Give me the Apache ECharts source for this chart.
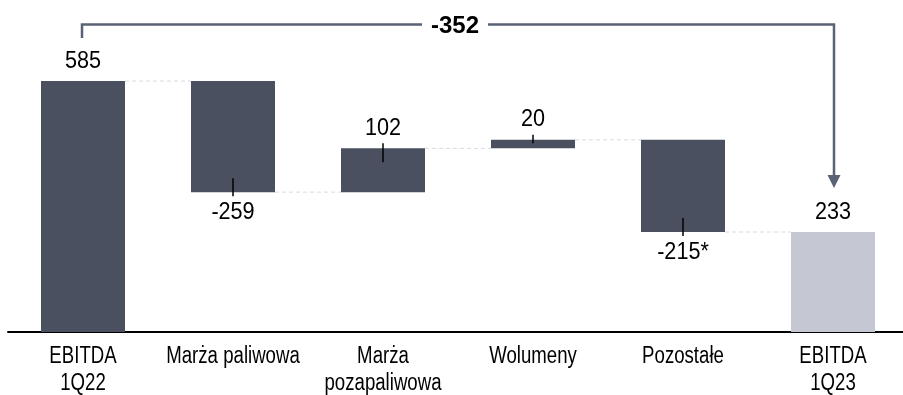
<!DOCTYPE html>
<html>
<head>
<meta charset="utf-8">
<style>
  html, body { margin: 0; padding: 0; background: #fff; }
  #chart { width: 903px; height: 395px; }
</style>
<script src="https://cdn.jsdelivr.net/npm/echarts@6/dist/echarts.min.js"></script>
</head>
<body>
<div id="chart"></div>
<script>
// EBITDA bridge 1Q22 -> 1Q23
const categories = ['EBITDA\n1Q22', 'Marża paliwowa', 'Marża\npozapaliwowa', 'Wolumeny', 'Pozostałe', 'EBITDA\n1Q23'];
const values = [585, -259, 102, 20, -215, 233];
const isTotal = [true, false, false, false, false, true];
const valueLabels = ['585', '-259', '102', '20', '-215*', '233'];

// Liberation Sans squeezed horizontally to get a narrow face
const FONT = '"Liberation Sans", Arial, sans-serif';
const DARK = '#4a5060';
const LIGHT = '#c5c8d3';
const BRACKET = '#5a6275';

// running start/end level of every bar
const bars = [];
let level = 0;
values.forEach((v, i) => {
  if (isTotal[i]) {
    bars.push([i, 0, v, 1]);
    level = v;
  } else {
    bars.push([i, level, level + v, 0]);
    level += v;
  }
});
const lastIdx = values.length - 1;
const change = values[lastIdx] - values[0];

function narrowText(x, y, text, font, scale, vAlign, lineHeight) {
  return {
    type: 'text',
    x: x, y: y, scaleX: scale,
    style: {
      x: 0, y: 0, text: text, fill: '#000', font: font,
      align: 'center', verticalAlign: vAlign, lineHeight: lineHeight
    }
  };
}

function renderBar(params, api) {
  const i = api.value(0), s = api.value(1), e = api.value(2), total = api.value(3);
  const band = api.size([1, 0])[0];
  const bw = band * 0.56;
  const pS = api.coord([i, s]);
  const pE = api.coord([i, e]);
  const axisY = api.coord([i, 0])[1];
  const top = Math.min(pS[1], pE[1]);
  const bottom = Math.max(pS[1], pE[1]);
  const x0 = pS[0] - bw / 2;
  const children = [];
  children.push({
    type: 'rect',
    shape: { x: x0, y: top, width: bw, height: bottom - top },
    style: { fill: i === lastIdx ? LIGHT : DARK }
  });
  const up = e >= s;
  const edgeY = pE[1];
  if (!total) {
    const inside = Math.min(14, (bottom - top) * 0.4);
    const y1 = up ? edgeY - 5 : edgeY + 4;
    const y2 = up ? edgeY + inside : edgeY - inside;
    children.push({
      type: 'line',
      shape: { x1: pE[0], y1: y1, x2: pE[0], y2: y2 },
      style: { stroke: '#000', lineWidth: 1.5 }
    });
  }
  children.push(narrowText(pE[0], up ? top - 20 : bottom + 20, valueLabels[i], '24px ' + FONT, 0.9, 'middle', 24));
  // category name under the axis
  children.push(narrowText(pS[0], axisY + 11, categories[i], '23px ' + FONT, 0.81, 'top', 27));
  // dashed connector to the next bar
  if (i < lastIdx) {
    const pN = api.coord([i + 1, e]);
    children.push({
      type: 'line',
      shape: { x1: x0 + bw, y1: edgeY, x2: pN[0] - bw / 2, y2: edgeY },
      style: { stroke: '#d8dae2', lineWidth: 1, lineDash: [4, 3] }
    });
  }
  return { type: 'group', children: children };
}

function renderBracket(params, api) {
  const a = api.value(0), b = api.value(1);
  const pA = api.coord([a, api.value(2)]);
  const pB = api.coord([b, api.value(3)]);
  const yTop = pA[1] - 56.5;
  const xl = pA[0] - 1, xr = pB[0] + 1;
  const mid = (xl + xr) / 2 - 3;
  const gap = 33;
  const tipY = pB[1] - 44;
  const st = { stroke: BRACKET, lineWidth: 2.5, fill: null };
  return {
    type: 'group',
    children: [
      { type: 'polyline', shape: { points: [[xl, pA[1] - 43], [xl, yTop], [mid - gap, yTop]] }, style: st },
      { type: 'polyline', shape: { points: [[mid + gap, yTop], [xr, yTop], [xr, tipY - 12]] }, style: st },
      { type: 'polygon', shape: { points: [[xr - 6.5, tipY - 13], [xr + 6.5, tipY - 13], [xr, tipY]] }, style: { fill: BRACKET } },
      {
        type: 'text',
        style: {
          x: mid, y: yTop + 1.5,
          text: String(change),
          fill: '#000',
          font: 'bold 24px ' + FONT,
          align: 'center', verticalAlign: 'middle'
        }
      }
    ]
  };
}

const chart = echarts.init(document.getElementById('chart'), null, { renderer: 'canvas' });
chart.setOption({
  animation: false,
  grid: { left: 8, width: 900, top: 81, bottom: 63, outerBoundsMode: 'none', containLabel: false },
  xAxis: {
    type: 'category',
    data: categories,
    axisLine: { lineStyle: { color: '#000', width: 2 } },
    axisTick: { show: false },
    axisLabel: { show: false }
  },
  yAxis: { type: 'value', min: 0, max: values[0], show: false, splitLine: { show: false } },
  series: [
    { type: 'custom', renderItem: renderBar, data: bars, clip: false, z: 2 },
    { type: 'custom', renderItem: renderBracket, data: [[0, lastIdx, values[0], values[lastIdx]]], clip: false, z: 3 }
  ]
});
</script>
</body>
</html>
